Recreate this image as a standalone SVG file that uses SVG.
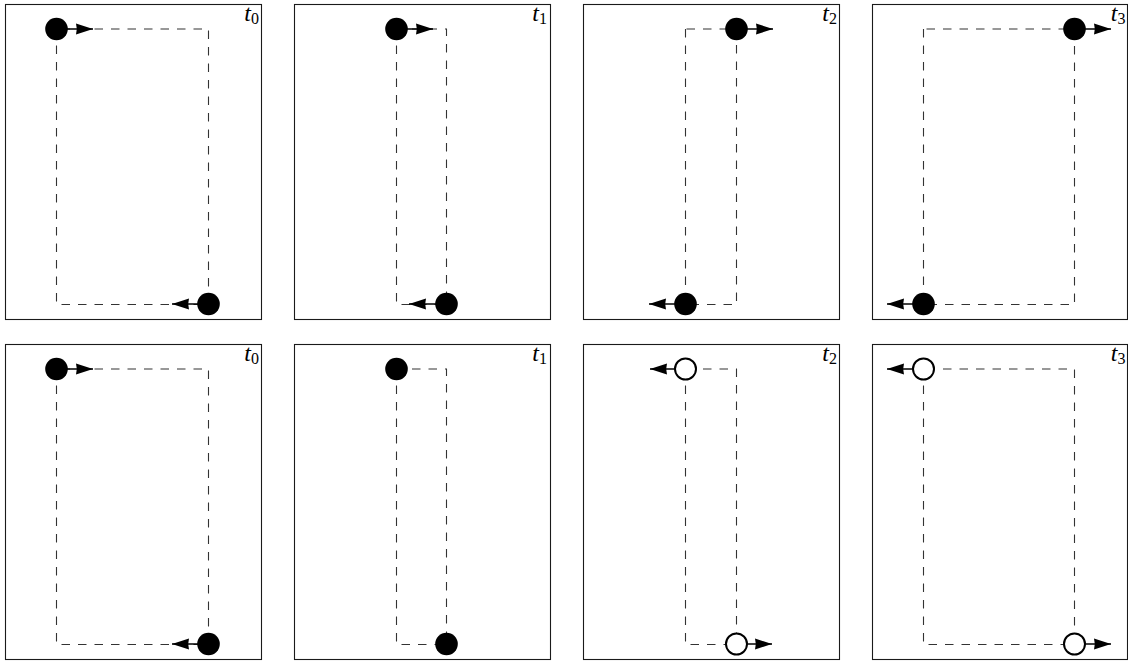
<svg xmlns="http://www.w3.org/2000/svg" width="1128" height="662" viewBox="0 0 1128 662">
<defs>
<style>
.frame{fill:none;stroke:#1a1a1a;stroke-width:1.1}
.track{fill:none;stroke:#333;stroke-width:1.1;stroke-dasharray:8.5 8}
.shaft{fill:none;stroke:#000;stroke-width:1.5;marker-end:url(#ah)}
.full{fill:#000;stroke:none}
.open{fill:#fff;stroke:#000;stroke-width:2}
.lbl{font-family:"Liberation Serif","DejaVu Serif",serif;font-size:24px;font-style:italic;fill:#000}
.sub{font-style:normal;font-size:16px}
</style>
<marker id="ah" viewBox="0 0 17 12" refX="17" refY="6" markerWidth="17" markerHeight="12" markerUnits="userSpaceOnUse" orient="auto">
<path d="M0,0.5 L17,6 L0,11.5 L0.8,6 Z" fill="#000"/>
</marker>
</defs>

<g id="frames">
<rect class="frame" x="5.5" y="4.5" width="256" height="315"/>
<rect class="frame" x="294.5" y="4.5" width="256" height="315"/>
<rect class="frame" x="583.5" y="4.5" width="256" height="315"/>
<rect class="frame" x="872.5" y="4.5" width="255" height="315"/>
<rect class="frame" x="5.5" y="344.5" width="256" height="315"/>
<rect class="frame" x="294.5" y="344.5" width="256" height="315"/>
<rect class="frame" x="583.5" y="344.5" width="256" height="315"/>
<rect class="frame" x="872.5" y="344.5" width="255" height="315"/>
</g>

<g id="labels">
<text class="lbl" x="259" y="21" text-anchor="end">t<tspan class="sub" dy="3">0</tspan></text>
<text class="lbl" x="547" y="21" text-anchor="end">t<tspan class="sub" dy="3">1</tspan></text>
<text class="lbl" x="837" y="21" text-anchor="end">t<tspan class="sub" dy="3">2</tspan></text>
<text class="lbl" x="1125.5" y="21" text-anchor="end">t<tspan class="sub" dy="3">3</tspan></text>
<text class="lbl" x="259" y="361" text-anchor="end">t<tspan class="sub" dy="3">0</tspan></text>
<text class="lbl" x="547" y="361" text-anchor="end">t<tspan class="sub" dy="3">1</tspan></text>
<text class="lbl" x="837" y="361" text-anchor="end">t<tspan class="sub" dy="3">2</tspan></text>
<text class="lbl" x="1125.5" y="361" text-anchor="end">t<tspan class="sub" dy="3">3</tspan></text>
</g>

<g id="connectors">
<path class="track" d="M56.5,29 V304.5 H208.5 V29 Z"/>
<path class="track" d="M396.5,29 V304.5 H446.5 V29 Z"/>
<path class="track" d="M685.5,29 V304.5 H736.5 V29 Z"/>
<path class="track" d="M923.5,29 V304.5 H1074.5 V29 Z"/>
<path class="track" d="M56.5,369 V644.5 H208.5 V369 Z"/>
<path class="track" d="M396.5,369 V644.5 H446.5 V369 Z"/>
<path class="track" d="M685.5,369 V644.5 H736.5 V369 Z"/>
<path class="track" d="M923.5,369 V644.5 H1074.5 V369 Z"/>

<line class="shaft" x1="66" y1="29" x2="93" y2="29"/>
<line class="shaft" x1="198" y1="304" x2="172" y2="304"/>
<line class="shaft" x1="406" y1="29" x2="433" y2="29"/>
<line class="shaft" x1="436" y1="304" x2="409" y2="304"/>
<line class="shaft" x1="746" y1="29" x2="773" y2="29"/>
<line class="shaft" x1="675" y1="304" x2="649" y2="304"/>
<line class="shaft" x1="1084" y1="29" x2="1111" y2="29"/>
<line class="shaft" x1="913" y1="304" x2="887" y2="304"/>

<line class="shaft" x1="66" y1="369" x2="93" y2="369"/>
<line class="shaft" x1="198" y1="644" x2="172" y2="644"/>
<line class="shaft" x1="675" y1="369" x2="650" y2="369"/>
<line class="shaft" x1="746" y1="644" x2="772" y2="644"/>
<line class="shaft" x1="913" y1="369" x2="887" y2="369"/>
<line class="shaft" x1="1084" y1="644" x2="1111" y2="644"/>
</g>

<g id="nodes">
<g id="n-a0-top"><circle class="full" cx="56.5" cy="29" r="11.3"/></g>
<g id="n-a0-bot"><circle class="full" cx="208.5" cy="304" r="11.3"/></g>
<g id="n-a1-top"><circle class="full" cx="396.5" cy="29" r="11.3"/></g>
<g id="n-a1-bot"><circle class="full" cx="446.5" cy="304" r="11.3"/></g>
<g id="n-a2-top"><circle class="full" cx="736.5" cy="29" r="11.3"/></g>
<g id="n-a2-bot"><circle class="full" cx="685.5" cy="304" r="11.3"/></g>
<g id="n-a3-top"><circle class="full" cx="1074.5" cy="29" r="11.3"/></g>
<g id="n-a3-bot"><circle class="full" cx="923.5" cy="304" r="11.3"/></g>

<g id="n-b0-top"><circle class="full" cx="56.5" cy="369" r="11.3"/></g>
<g id="n-b0-bot"><circle class="full" cx="208.5" cy="644" r="11.3"/></g>
<g id="n-b1-top"><circle class="full" cx="396.5" cy="369" r="11.3"/></g>
<g id="n-b1-bot"><circle class="full" cx="446.5" cy="644" r="11.3"/></g>
<g id="n-b2-top"><circle class="open" cx="685.5" cy="369" r="10.5"/></g>
<g id="n-b2-bot"><circle class="open" cx="736.5" cy="644" r="10.5"/></g>
<g id="n-b3-top"><circle class="open" cx="923.5" cy="369" r="10.5"/></g>
<g id="n-b3-bot"><circle class="open" cx="1074.5" cy="644" r="10.5"/></g>
</g>
</svg>
